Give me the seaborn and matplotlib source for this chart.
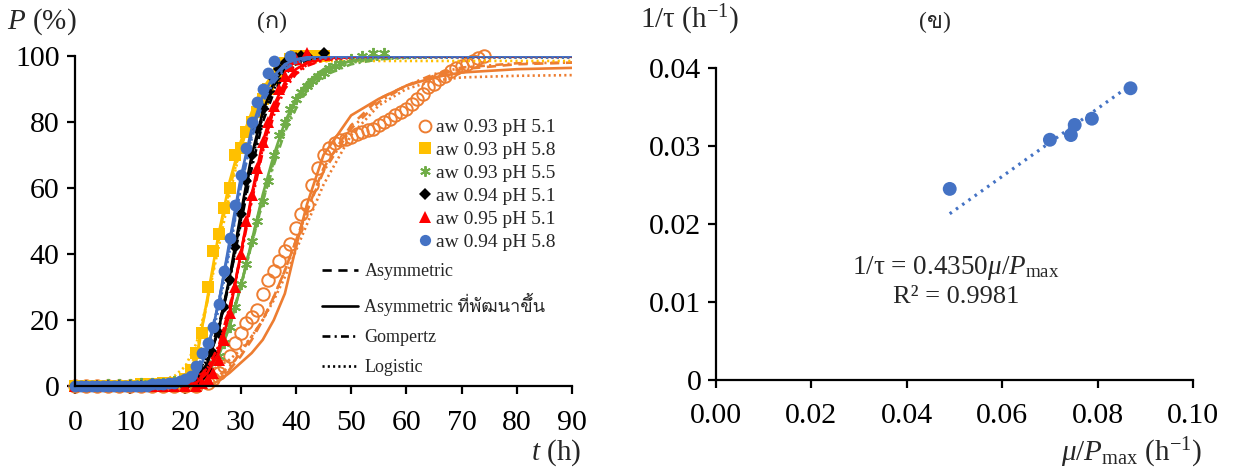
import pandas as pd
import matplotlib.pyplot as plt
import seaborn as sns
from matplotlib.lines import Line2D
from matplotlib import font_manager
from matplotlib.ft2font import FT2Font

sns.set_theme(style="ticks")

# buscar una fuente con glifos tailandeses
thai_fonts = []
for f in font_manager.fontManager.ttflist:
    try:
        if 0x0E01 in FT2Font(f.fname).get_charmap():
            thai_fonts.append(f.name)
    except Exception:
        pass
plt.rcParams['font.family'] = ['Liberation Serif'] + thai_fonts[:1] + ['DejaVu Sans']
plt.rcParams['mathtext.fontset'] = 'custom'
plt.rcParams['mathtext.rm'] = 'Liberation Serif'
plt.rcParams['mathtext.it'] = 'Liberation Serif:italic'

# ================= datos panel (ก) =================
series_names = ["aw 0.93 pH 5.1", "aw 0.93 pH 5.8", "aw 0.93 pH 5.5",
                "aw 0.94 pH 5.1", "aw 0.95 pH 5.1", "aw 0.94 pH 5.8"]
series_colors = ["#ED7D31", "#FFC000", "#70AD47", "#000000", "#FF0000", "#4472C4"]
model_names = ["Asymmetric", "Asymmetric ที่พัฒนาขึ้น", "Gompertz", "Logistic"]

early_t = [0, 2, 4, 6, 8, 10, 12, 14, 16, 18, 20]

t_orange = early_t + [22] + list(range(24, 75))
p_orange = [0] * 12 + [1, 2, 4, 6, 9, 13, 16, 19, 21, 23, 28, 32, 35, 38, 41, 43, 48, 52, 55, 61,
                       66, 70, 72, 73.5, 74.5, 75, 75.5, 76.5, 77, 77.5, 78, 79, 80, 81, 82, 83,
                       84, 85.5, 87, 88.5, 90.5, 91.5, 93, 94, 95.5, 96.5, 97, 97.5, 98.5, 99.5, 100]

t_yellow = early_t + list(range(21, 46))
p_yellow = [0, 0, 0, 0, 0, 0, 0.5, 0.5, 1, 1, 2,
            5, 10, 16, 30, 41, 46, 54, 60, 70, 72, 77, 80, 83, 87, 90, 93, 95, 98, 99,
            100, 100, 100, 100, 100, 100]

t_green = early_t + [22, 24, 26] + list(range(27, 49)) + [50, 52, 54, 56]
p_green = [0, 0, 0, 0.5, 0.5, 0.5, 1, 1, 1, 1.5, 2,
           3, 5, 9, 13, 18, 24, 31, 37, 44, 50, 56, 62, 70, 76, 80, 84, 87, 89, 91, 92.5,
           94, 95, 96.5, 97, 98, 99, 100, 101, 101]

t_black = early_t + list(range(22, 43)) + [45]
p_black = [0] * 11 + [1, 3, 5, 10, 16, 24, 32, 42, 52, 62, 70, 78, 84, 89, 93, 96, 98, 99,
                      99.5, 100, 100, 101]

t_red = early_t + list(range(22, 41)) + [42]
p_red = [0] * 11 + [0, 1, 2, 4, 8, 14, 22, 30, 40, 50, 58, 66, 74, 80, 85, 90, 94, 97, 99, 101]

t_blue = list(range(0, 37)) + [39]
p_blue = [0] * 14 + [0.5, 0.5, 0.5, 1, 1, 1.5, 2,
                     3, 6, 10, 13, 18, 25, 35, 45, 55, 64, 72, 80, 86, 90, 95, 98.5, 100]

obs_t = [t_orange, t_yellow, t_green, t_black, t_red, t_blue]
obs_p = [p_orange, p_yellow, p_green, p_black, p_red, p_blue]

# curvas ajustadas
fit_t = [0, 10, 15, 18, 20, 22, 24, 26, 28, 30, 32, 34, 36, 38, 40, 42, 45, 50, 55, 60, 65, 70, 80, 90]

fit_asym = [
    [0, 0, 0, 0, 0, 0, 0.5, 2, 5, 9, 14, 20, 27, 35, 44, 53, 66, 79, 87, 91, 94, 96, 97.5, 98],
    [0, 0, 0, 0.5, 2, 9, 26, 45, 61, 73, 82, 89, 94, 97, 99, 99.5, 100, 100, 100, 100, 100, 100, 100, 100],
    [0, 0, 0, 0, 0.3, 1.8, 4.5, 9.5, 18, 30, 44, 57, 69, 79, 86.5, 91.5, 95.5, 98.5, 99.4, 99.8, 100, 100, 100, 100],
    [0, 0, 0, 0, 0.5, 2.5, 7.5, 17, 32, 51, 69, 82, 91, 96, 98.3, 99.2, 99.7, 100, 100, 100, 100, 100, 100, 100],
    [0, 0, 0, 0, 0.2, 1.5, 4.5, 11, 23, 40, 57, 72, 84, 91, 95.5, 97.8, 99.2, 99.8, 100, 100, 100, 100, 100, 100],
    [0, 0, 0, 0, 0.7, 3.5, 11, 25, 43, 62, 77, 87, 93, 97, 98.8, 99.5, 100, 100, 100, 100, 100, 100, 100, 100],
]
fit_dev = [
    [0, 0, 0, 0, 0, 0, 0, 1.5, 4, 7, 10, 14, 20, 28, 42, 55, 70, 82, 87, 91, 93.5, 95, 96, 96.4],
    [0, 0, 0, 0.5, 1.5, 8, 27, 46, 62, 74, 83, 90, 95, 98, 99.5, 100, 100, 100, 100, 100, 100, 100, 100, 100],
    [0, 0, 0, 0, 0.2, 1.5, 4, 9, 18, 30, 44, 58, 70, 80, 87, 92, 96, 98.5, 99.5, 100, 100, 100, 100, 100],
    [0, 0, 0, 0, 0.3, 2, 7, 17, 33, 52, 70, 83, 92, 96.5, 98.5, 99.4, 99.8, 100, 100, 100, 100, 100, 100, 100],
    [0, 0, 0, 0, 0, 1, 4, 10, 22, 40, 58, 74, 85, 92, 96, 98, 99.3, 99.8, 100, 100, 100, 100, 100, 100],
    [0, 0, 0, 0, 0.5, 3, 11, 25, 44, 63, 78, 88, 94, 97.5, 99, 99.6, 100, 100, 100, 100, 100, 100, 100, 100],
]
fit_gomp = [
    [0, 0, 0, 0, 0.2, 0.5, 1.5, 3, 6, 10, 15, 20, 27, 35, 44, 53, 65, 78, 86, 91, 94.5, 96.5, 97.8, 98],
    [0, 0, 0.2, 1, 3, 10, 26, 44, 60, 72, 82, 89, 94, 97, 98.5, 99.2, 99.6, 99.8, 100, 100, 100, 100, 100, 100],
    [0, 0, 0.1, 0.4, 1.2, 3, 6, 11, 19, 30, 43, 56, 67, 77, 84, 89.5, 94, 97.5, 99, 99.6, 99.8, 100, 100, 100],
    [0, 0, 0, 0.2, 1, 3.5, 9, 18, 32, 49, 66, 80, 89, 94.5, 97.3, 98.7, 99.5, 99.9, 100, 100, 100, 100, 100, 100],
    [0, 0, 0, 0.1, 0.6, 2, 5.5, 12, 24, 39, 56, 71, 82, 90, 94.5, 97, 98.8, 99.7, 100, 100, 100, 100, 100, 100],
    [0, 0, 0, 0.3, 1.5, 5, 12, 25, 42, 60, 75, 86, 92, 96, 98, 99, 99.6, 99.9, 100, 100, 100, 100, 100, 100],
]
fit_logi = [
    [0, 0.2, 0.5, 1, 1.5, 2.5, 4, 6, 8, 11, 15, 20, 26, 33, 41, 49, 61, 76, 85, 90, 92.5, 93.5, 94, 94.2],
    [0.2, 0.5, 1.5, 3, 6, 13, 26, 42, 58, 72, 82, 89, 93.5, 96, 97.5, 98, 98.4, 98.5, 98.5, 98.5, 98.5, 98.5, 98.5, 98.5],
    [0, 0.1, 0.3, 0.7, 1.4, 3, 6, 11, 19, 30, 43, 56, 68, 78, 85.5, 90.5, 95, 98, 99, 99.4, 99.6, 99.7, 99.7, 99.7],
    [0, 0.05, 0.3, 0.8, 1.5, 3.5, 8, 17, 32, 50, 68, 82, 90, 95, 97.5, 98.7, 99.4, 99.7, 99.8, 99.8, 99.8, 99.8, 99.8, 99.8],
    [0, 0.05, 0.2, 0.5, 1, 2.5, 5.5, 12, 23, 39, 57, 72, 84, 91, 95, 97.3, 98.8, 99.4, 99.6, 99.6, 99.6, 99.6, 99.6, 99.6],
    [0, 0.1, 0.4, 1, 2, 5, 11, 23, 41, 60, 76, 87, 93, 96.5, 98, 99, 99.3, 99.5, 99.5, 99.5, 99.5, 99.5, 99.5, 99.5],
]

# ================= datos panel (ข) =================
mu_pmax = [0.049, 0.070, 0.0744, 0.0752, 0.0788, 0.0869]
inv_tau = [0.0245, 0.0308, 0.0314, 0.0327, 0.0335, 0.0374]
slope = 0.4350
r2 = 0.9981

# estilos
markers = ["o", "s", (6, 2, 0), "D", "^", "o"]
marker_sizes = [9, 8.5, 8, 6.5, 8.5, 8.5]
model_dashes = {"Asymmetric": (3.5, 2.5), "Asymmetric ที่พัฒนาขึ้น": "",
                "Gompertz": (3, 1.6, 0.8, 1.6), "Logistic": (0.8, 1.2)}
lw_fit = 1.9

fig = plt.figure(figsize=(12.35, 4.71), dpi=100)
ax1 = fig.add_axes([75 / 1235, 1 - 386 / 471, 497 / 1235, 330 / 471])
ax2 = fig.add_axes([716 / 1235, 1 - 380 / 471, 477 / 1235, 312 / 471])

# ================= panel (ก) =================
for i, name in enumerate(series_names):
    fits = pd.concat([
        pd.DataFrame({"t": fit_t, "P": fit_asym[i], "model": model_names[0]}),
        pd.DataFrame({"t": fit_t, "P": fit_dev[i], "model": model_names[1]}),
        pd.DataFrame({"t": fit_t, "P": fit_gomp[i], "model": model_names[2]}),
        pd.DataFrame({"t": fit_t, "P": fit_logi[i], "model": model_names[3]}),
    ])
    sns.lineplot(data=fits, x="t", y="P", style="model", style_order=model_names,
                 dashes=model_dashes, color=series_colors[i], lw=lw_fit, estimator=None,
                 sort=False, legend=False, ax=ax1)
    obs = pd.DataFrame({"t": obs_t[i], "P": obs_p[i]})
    face = "none" if i == 0 else series_colors[i]
    sns.lineplot(data=obs, x="t", y="P", color=series_colors[i], marker=markers[i],
                 ms=marker_sizes[i], mfc=face, mec=series_colors[i],
                 mew=1.4 if i in (0, 2) else 0, linestyle="none", estimator=None,
                 legend=False, ax=ax1, clip_on=False)

ax1.set_xlim(0, 90)
ax1.set_ylim(0, 100)
ax1.set_xticks(range(0, 91, 10))
ax1.set_yticks(range(0, 101, 20))
ax1.set_xlabel("")
ax1.set_ylabel("")

series_handles = [Line2D([], [], ls="none", marker=markers[i], ms=marker_sizes[i] * 0.95,
                         mfc="none" if i == 0 else series_colors[i], mec=series_colors[i],
                         mew=1.4 if i in (0, 2) else 0) for i in range(6)]
leg1 = ax1.legend(series_handles, series_names, loc="upper left", bbox_to_anchor=(0.69, 0.81),
                  frameon=False, fontsize=14, handlelength=0.7, handletextpad=0.25,
                  labelspacing=0.27, borderpad=0, borderaxespad=0)
ax1.add_artist(leg1)
model_handles = [Line2D([], [], color="black", lw=lw_fit,
                        dashes=model_dashes[m] if model_dashes[m] else (None, None))
                 for m in model_names]
ax1.legend(model_handles, model_names, loc="upper left", bbox_to_anchor=(0.497, 0.373),
           frameon=False, fontsize=13, handlelength=2.0, handletextpad=0.35,
           labelspacing=0.72, borderpad=0, borderaxespad=0)

# ================= panel (ข) =================
trend_x = [min(mu_pmax), max(mu_pmax)]
trend_y = [slope * x for x in trend_x]
sns.lineplot(x=trend_x, y=trend_y, color="#4472C4", lw=2.3, linestyle=(0, (0.8, 1.6)),
             estimator=None, legend=False, ax=ax2)
sns.scatterplot(x=mu_pmax, y=inv_tau, color="#4472C4", s=100, edgecolor="none",
                legend=False, ax=ax2, zorder=3)
ax2.set_xlim(0, 0.10)
ax2.set_ylim(0, 0.04)
ax2.set_xticks([0, 0.02, 0.04, 0.06, 0.08, 0.10])
ax2.set_xticklabels(["0.00", "0.02", "0.04", "0.06", "0.08", "0.10"])
ax2.set_yticks([0, 0.01, 0.02, 0.03, 0.04])
ax2.set_yticklabels(["0", "0.01", "0.02", "0.03", "0.04"])
ax2.text(0.503, 0.36, "1/τ = 0.4350$\\mu/P_{\\mathrm{max}}$", transform=ax2.transAxes,
         ha="center", va="center", fontsize=19.5)
ax2.text(0.503, 0.265, f"R² = {r2:.4f}", transform=ax2.transAxes,
         ha="center", va="center", fontsize=19)

for ax, xpad, ypad in ((ax1, 11, 5), (ax2, 10.5, 4.5)):
    sns.despine(ax=ax)
    for s in ("left", "bottom"):
        ax.spines[s].set_color("black")
        ax.spines[s].set_linewidth(1.6)
    ax.tick_params(labelsize=21.5, length=6, width=1.6, color="black", labelcolor="black")
    ax.tick_params(axis="x", pad=xpad)
    ax.tick_params(axis="y", pad=ypad)
    ax.grid(False)

# títulos y rótulos de ejes
fig.text(42 / 1235, 1 - 22 / 471, "$P$ (%)", ha="center", va="center", fontsize=21)
fig.text(272 / 1235, 1 - 22 / 471, "(ก)", ha="center", va="center", fontsize=17)
fig.text(556 / 1235, 1 - 453 / 471, "$t$ (h)", ha="center", va="center", fontsize=21)
fig.text(690 / 1235, 1 - 20 / 471, "1/τ (h$^{\\mathrm{-1}}$)", ha="center", va="center", fontsize=21)
fig.text(935 / 1235, 1 - 22 / 471, "(ข)", ha="center", va="center", fontsize=17)
fig.text(1132 / 1235, 1 - 453 / 471, "$\\mu/P_{\\mathrm{max}}$ (h$^{\\mathrm{-1}}$)",
         ha="center", va="center", fontsize=21)

fig.savefig("out.png", dpi=100)
